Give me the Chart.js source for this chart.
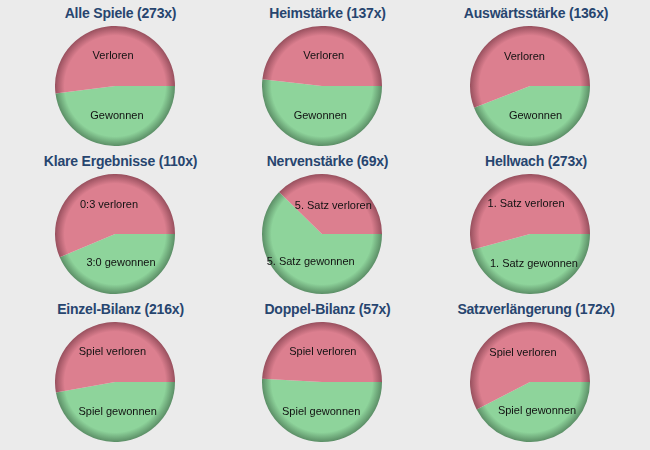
<!DOCTYPE html>
<html>
<head>
<meta charset="utf-8">
<script src="https://cdn.jsdelivr.net/npm/chart.js@4"></script>
<style>
  html, body { margin: 0; padding: 0; background: #ebebeb; }
  body { width: 650px; height: 450px; position: relative; overflow: hidden; }
  .title { position: absolute; width: 200px; text-align: center; font: bold 14px "Liberation Sans", Arial, sans-serif; letter-spacing: -0.2px; color: #27456f; white-space: nowrap; }
  canvas { position: absolute; }
</style>
</head>
<body>
<script>
const titles = ['Alle Spiele (273x)', 'Heimstärke (137x)', 'Auswärtsstärke (136x)',
                'Klare Ergebnisse (110x)', 'Nervenstärke (69x)', 'Hellwach (273x)',
                'Einzel-Bilanz (216x)', 'Doppel-Bilanz (57x)', 'Satzverlängerung (172x)'];
const wonLabels = ['Gewonnen', 'Gewonnen', 'Gewonnen',
                   '3:0 gewonnen', '5. Satz gewonnen', '1. Satz gewonnen',
                   'Spiel gewonnen', 'Spiel gewonnen', 'Spiel gewonnen'];
const lostLabels = ['Verloren', 'Verloren', 'Verloren',
                    '0:3 verloren', '5. Satz verloren', '1. Satz verloren',
                    'Spiel verloren', 'Spiel verloren', 'Spiel verloren'];
const wonValues  = [131, 71, 60, 48, 43, 125, 102, 29, 73];
const lostValues = [142, 66, 76, 62, 26, 148, 114, 28, 99];

const colX = [114.5, 321.5, 530];
const rowY = [86, 234, 382];
const titleTop = [5, 153, 301];
const R = 60;

const baseColors = ['#8ed49b', '#dc7f8f'];
const edgeColors = ['#5b8e66', '#98505e'];

function shaded(ctx) {
  const chart = ctx.chart;
  const i = ctx.dataIndex;
  const area = chart.chartArea;
  if (!area) return baseColors[i];
  const cx = (area.left + area.right) / 2, cy = (area.top + area.bottom) / 2;
  const r = Math.min(area.right - area.left, area.bottom - area.top) / 2;
  const g = chart.ctx.createRadialGradient(cx, cy, 0, cx, cy, r);
  g.addColorStop(0, baseColors[i]);
  g.addColorStop(0.84, baseColors[i]);
  g.addColorStop(1, edgeColors[i]);
  return g;
}

const sliceLabels = {
  id: 'sliceLabels',
  afterDatasetsDraw(chart) {
    const ctx = chart.ctx;
    const meta = chart.getDatasetMeta(0);
    ctx.save();
    ctx.font = '11px "Liberation Sans", Arial, sans-serif';
    ctx.fillStyle = '#111';
    ctx.textAlign = 'center';
    ctx.textBaseline = 'middle';
    meta.data.forEach((arc, i) => {
      const p = arc.getProps(['x', 'y', 'startAngle', 'endAngle', 'outerRadius'], true);
      const mid = (p.startAngle + p.endAngle) / 2;
      const rr = p.outerRadius * 0.5;
      ctx.fillText(chart.data.labels[i], p.x + Math.cos(mid) * rr, p.y + Math.sin(mid) * rr);
    });
    ctx.restore();
  }
};

titles.forEach((t, k) => {
  const col = k % 3, row = Math.floor(k / 3);
  const div = document.createElement('div');
  div.className = 'title';
  div.textContent = t;
  div.style.left = (colX[col] + 6 - 100) + 'px';
  div.style.top = titleTop[row] + 'px';
  document.body.appendChild(div);

  const cv = document.createElement('canvas');
  cv.width = 2 * R; cv.height = 2 * R;
  cv.style.width = 2 * R + 'px'; cv.style.height = 2 * R + 'px';
  cv.style.left = (colX[col] - R) + 'px';
  cv.style.top = (rowY[row] - R) + 'px';
  document.body.appendChild(cv);

  new Chart(cv, {
    type: 'pie',
    data: {
      labels: [wonLabels[k], lostLabels[k]],
      datasets: [{
        data: [wonValues[k], lostValues[k]],
        backgroundColor: shaded,
        borderWidth: 0
      }]
    },
    options: {
      responsive: false,
      animation: false,
      rotation: 90,
      layout: { padding: 0 },
      plugins: { legend: { display: false }, tooltip: { enabled: false }, title: { display: false } }
    },
    plugins: [sliceLabels]
  });
});
</script>
</body>
</html>
